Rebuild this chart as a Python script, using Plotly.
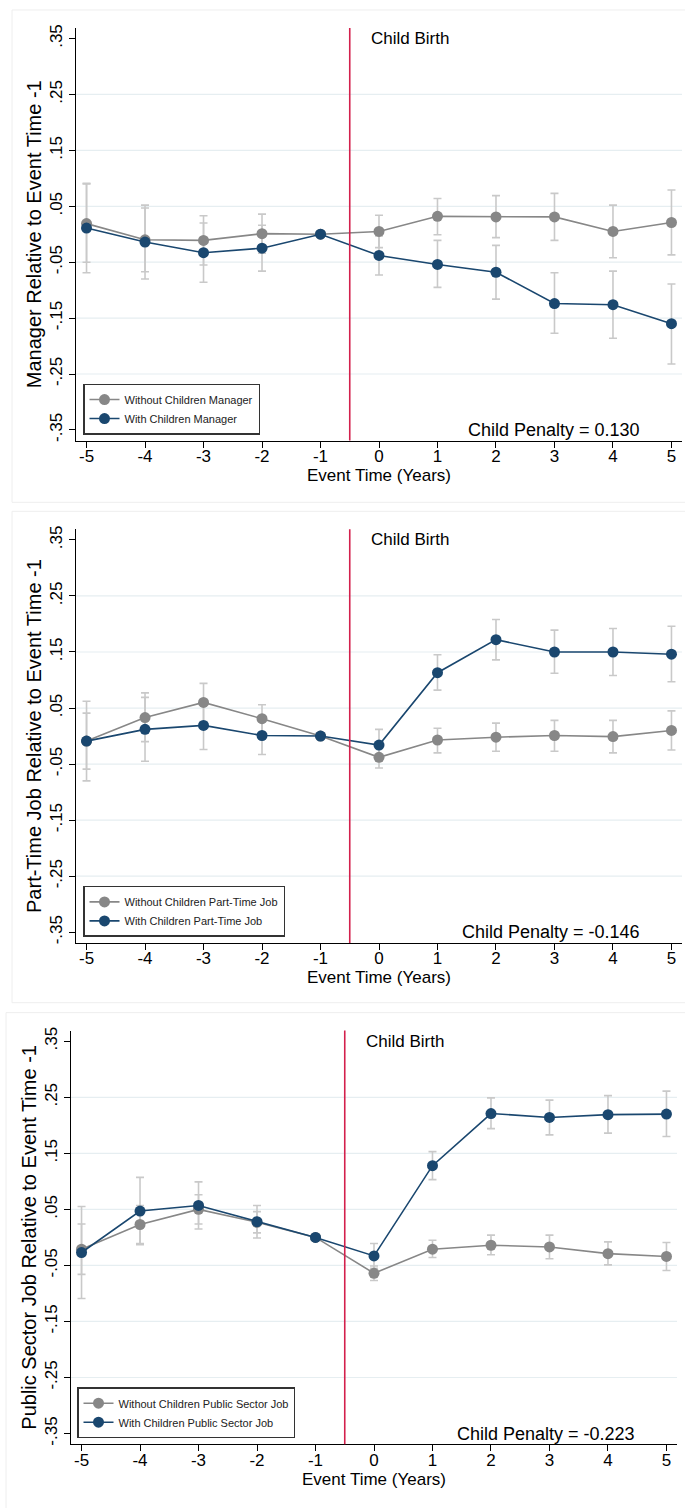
import plotly.graph_objects as go

# ---------------- data ----------------
event_time = [-5, -4, -3, -2, -1, 0, 1, 2, 3, 4, 5]
x_tick_labels = ["-5", "-4", "-3", "-2", "-1", "0", "1", "2", "3", "4", "5"]
event_line = -0.5

y_ticks = [0.35, 0.25, 0.15, 0.05, -0.05, -0.15, -0.25, -0.35]
y_tick_labels = [".35", ".25", ".15", ".05", "-.05", "-.15", "-.25", "-.35"]

# Manager
mgr_without = [0.019, -0.010, -0.011, 0.001, 0.0, 0.005, 0.032, 0.031, 0.031, 0.005, 0.021]
mgr_without_lo = [-0.050, -0.067, -0.055, -0.034, 0.0, -0.024, -0.001, -0.006, -0.011, -0.042, -0.037]
mgr_without_hi = [0.090, 0.047, 0.033, 0.036, 0.0, 0.034, 0.064, 0.069, 0.073, 0.052, 0.079]
mgr_with = [0.011, -0.014, -0.033, -0.025, 0.0, -0.038, -0.054, -0.068, -0.124, -0.126, -0.160]
mgr_with_lo = [-0.069, -0.080, -0.086, -0.066, 0.0, -0.073, -0.095, -0.116, -0.177, -0.186, -0.232]
mgr_with_hi = [0.091, 0.052, 0.020, 0.016, 0.0, -0.003, -0.011, -0.020, -0.069, -0.066, -0.089]

# Part-time job
pt_without = [-0.009, 0.033, 0.060, 0.031, 0.0, -0.038, -0.007, -0.002, 0.001, -0.001, 0.010]
pt_without_lo = [-0.080, -0.010, 0.026, 0.006, 0.0, -0.057, -0.030, -0.027, -0.027, -0.030, -0.025]
pt_without_hi = [0.062, 0.077, 0.094, 0.056, 0.0, -0.019, 0.014, 0.023, 0.028, 0.028, 0.045]
pt_with = [-0.009, 0.012, 0.019, 0.001, 0.0, -0.016, 0.113, 0.172, 0.150, 0.150, 0.146]
pt_with_lo = [-0.059, -0.045, -0.024, -0.033, 0.0, -0.044, 0.082, 0.136, 0.112, 0.108, 0.097]
pt_with_hi = [0.041, 0.069, 0.062, 0.035, 0.0, 0.012, 0.145, 0.208, 0.189, 0.192, 0.196]

# Public sector job
ps_without = [-0.021, 0.023, 0.050, 0.027, 0.0, -0.064, -0.021, -0.014, -0.017, -0.029, -0.034]
ps_without_lo = [-0.066, -0.011, 0.024, 0.008, 0.0, -0.077, -0.036, -0.031, -0.038, -0.049, -0.059]
ps_without_hi = [0.024, 0.057, 0.076, 0.046, 0.0, -0.051, -0.005, 0.004, 0.004, -0.008, -0.009]
ps_with = [-0.027, 0.047, 0.057, 0.028, 0.0, -0.033, 0.128, 0.221, 0.214, 0.219, 0.220]
ps_with_lo = [-0.109, -0.013, 0.015, -0.001, 0.0, -0.055, 0.103, 0.194, 0.183, 0.186, 0.180]
ps_with_hi = [0.055, 0.107, 0.099, 0.057, 0.0, -0.011, 0.153, 0.249, 0.245, 0.253, 0.261]

outcomes = ["Manager", "Part-Time Job", "Public Sector Job"]
penalties = ["0.130", "-0.146", "-0.223"]

panels = [
    (mgr_without, mgr_without_lo, mgr_without_hi, mgr_with, mgr_with_lo, mgr_with_hi),
    (pt_without, pt_without_lo, pt_without_hi, pt_with, pt_with_lo, pt_with_hi),
    (ps_without, ps_without_lo, ps_without_hi, ps_with, ps_with_lo, ps_with_hi),
]

# ---------------- style ----------------
W, H = 685, 1508
GRAY = "#878787"
NAVY = "#1a476f"
CI = "#c9c9c9"
RED = "#d3204c"
GRID = "#e6eef1"
FONT = "Liberation Sans, Arial, sans-serif"

# pixel geometry of each panel: (plot left, plot right, plot top, plot bottom, legend left, legend bottom, frame left, frame top, frame bottom)
geo = [
    (76, 682, 24, 438, 83, 432, 12, 6, 500),
    (76, 682, 527, 942, 83, 936, 12, 509, 1002),
    (71, 677, 1030, 1445, 77, 1439, 6, 1012, 1515),
]

fig = go.Figure()
layout = dict(
    width=W, height=H,
    margin=dict(l=0, r=0, t=0, b=0),
    paper_bgcolor="white", plot_bgcolor="white",
    font=dict(family=FONT, color="black"),
    showlegend=True,
)
shapes = []
annotations = []

for i, (data, name, pen, g) in enumerate(zip(panels, outcomes, penalties, geo)):
    wo, wo_lo, wo_hi, wi, wi_lo, wi_hi = data
    pl, pr, pt, pb, ll, lb, fl, ft, fb = g
    k = "" if i == 0 else str(i + 1)
    xr, yr = "x" + k, "y" + k
    leg = "legend" + k

    for vals, lo, hi in ((wo, wo_lo, wo_hi), (wi, wi_lo, wi_hi)):
        fig.add_trace(go.Scatter(
            x=event_time, y=vals, xaxis=xr, yaxis=yr, mode="markers",
            marker=dict(size=1, color="rgba(0,0,0,0)"),
            error_y=dict(type="data", symmetric=False,
                         array=[h - v for h, v in zip(hi, vals)],
                         arrayminus=[v - l for v, l in zip(vals, lo)],
                         color=CI, thickness=1.6, width=4),
            showlegend=False, hoverinfo="skip",
        ))
    fig.add_trace(go.Scatter(
        x=event_time, y=wo, xaxis=xr, yaxis=yr, mode="lines+markers",
        name=f"Without Children {name}", legend=leg,
        line=dict(color=GRAY, width=1.6), marker=dict(color=GRAY, size=11),
    ))
    fig.add_trace(go.Scatter(
        x=event_time, y=wi, xaxis=xr, yaxis=yr, mode="lines+markers",
        name=f"With Children {name}", legend=leg,
        line=dict(color=NAVY, width=1.6), marker=dict(color=NAVY, size=11),
    ))

    layout["xaxis" + k] = dict(
        domain=[pl / W, pr / W], anchor=yr, range=[-5.18, 5.18],
        tickmode="array", tickvals=event_time, ticktext=x_tick_labels,
        ticks="outside", ticklen=6, tickwidth=1.2, tickcolor="black",
        ticklabelstandoff=-6,
        showline=True, linecolor="black", linewidth=1.3,
        showgrid=False, zeroline=False,
        tickfont=dict(size=17),
        title=dict(text="Event Time (Years)", font=dict(size=17), standoff=0),
    )
    layout["yaxis" + k] = dict(
        domain=[1 - pb / H, 1 - pt / H], anchor=xr, range=[-0.369, 0.369],
        tickmode="array", tickvals=y_ticks, ticktext=y_tick_labels, tickangle=-90,
        ticks="outside", ticklen=6, tickwidth=1.2, tickcolor="black",
        showline=True, linecolor="black", linewidth=1.3,
        showgrid=False, zeroline=False,
        tickfont=dict(size=17),
        title=dict(text=f"{name} Relative to Event Time -1", font=dict(size=20), standoff=0),
    )
    layout[leg] = dict(
        x=ll / W, y=1 - lb / H, xanchor="left", yanchor="bottom",
        bgcolor="white", bordercolor="#333333", borderwidth=1.5,
        font=dict(family="Liberation Sans Narrow, Liberation Sans, Arial", size=11, color="#222222"),
        tracegroupgap=0, itemwidth=30,
    )

    # grid lines at inner ticks
    for t in y_ticks[1:-1]:
        shapes.append(dict(type="line", xref=xr + " domain", yref=yr,
                           x0=0, x1=1, y0=t, y1=t,
                           line=dict(color=GRID, width=1.2), layer="below"))
    # event line
    shapes.append(dict(type="line", xref=xr, yref=yr + " domain",
                       x0=event_line, x1=event_line, y0=0, y1=1,
                       line=dict(color=RED, width=1.6)))
    # panel frame
    shapes.append(dict(type="rect", xref="paper", yref="paper",
                       x0=fl / W, x1=1.02, y0=1 - fb / H, y1=1 - ft / H,
                       line=dict(color="#eeeeee", width=1), layer="below"))

    annotations.append(dict(xref=xr, yref=yr, x=event_line + 0.33, y=y_ticks[0],
                            text="Child Birth", showarrow=False,
                            xanchor="left", yanchor="middle", font=dict(size=17)))
    annotations.append(dict(xref=xr, yref=yr, x=4.5, y=y_ticks[-1],
                            text=f"Child Penalty = {pen}", showarrow=False,
                            xanchor="right", yanchor="middle", font=dict(size=18)))

layout["shapes"] = shapes
layout["annotations"] = annotations
fig.update_layout(**layout)

fig.write_html(
    "out.html",
    config={"displayModeBar": False},
    post_script="document.body.style.margin='0';document.body.style.padding='0';document.body.style.overflow='hidden';",
)
